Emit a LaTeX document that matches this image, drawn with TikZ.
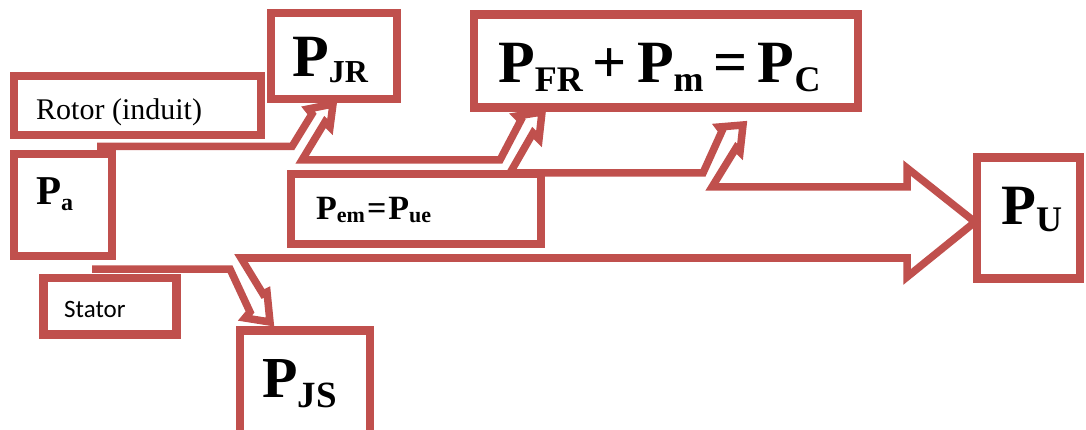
\documentclass[tikz,border=0pt]{standalone}
\usepackage{fontspec}
\setmainfont{Liberation Serif}
\newfontfamily\statorfont{Carlito}
\usetikzlibrary{positioning}

\definecolor{flowred}{HTML}{C0504D}

% P with a lowered subscript: main size, sub size, drop, subscript
\newcommand{\pwr}[4]{{\bfseries\fontsize{#1}{#1}\selectfont P\lower#3\hbox{\fontsize{#2}{#2}\selectfont #4}}}

\begin{document}
\begin{tikzpicture}[
  x=1pt, y=-1pt,
  box/.style={draw=flowred, line width=8.5pt, inner sep=0pt},
  lbl/.style={inner sep=0pt, anchor=base west},
  flow/.style={draw=flowred, line width=7.5pt},
]
\useasboundingbox (0,0) rectangle (1086,430);

% boxes
\node[box, minimum width=126pt, minimum height=86pt] (pjr) at (334,56) {};
\node[box, minimum width=247pt, minimum height=59pt] (rotor) at (137.5,105.5) {};
\node[box, minimum width=98pt, minimum height=102pt] (pa) at (63,205) {};
\node[box, minimum width=250pt, minimum height=70pt] (pem) at (416,209) {};
\node[box, minimum width=384pt, minimum height=93pt] (pc) at (666,61) {};
\node[box, minimum width=103pt, minimum height=121pt] (pu) at (1028.5,218) {};
\node[box, minimum width=133pt, minimum height=56.5pt] (stator) at (110,306) {};
\node[box, minimum width=130pt, minimum height=129pt] (pjs) at (305,395) {};

% texts
\node[lbl] (pjr-t) at (292,77) {\pwr{60pt}{32pt}{6pt}{JR}};
\node[lbl] (rotor-t) at (36,120) {\fontsize{30pt}{30pt}\selectfont Rotor (induit)};
\node[lbl] (pa-t) at (36,205) {\pwr{41pt}{24pt}{6pt}{a}};
\node[lbl] (pem-t) at (316,220) {\pwr{34pt}{22pt}{3pt}{em}\hspace{2pt}{\bfseries\fontsize{34pt}{34pt}\selectfont =}\hspace{2pt}\pwr{34pt}{22pt}{3pt}{ue}};
\node[lbl] (pc-t) at (498,83) {\pwr{60pt}{36pt}{9pt}{FR}\hspace{10pt}{\bfseries\fontsize{60pt}{60pt}\selectfont +}\hspace{10pt}\pwr{60pt}{36pt}{9pt}{m}\hspace{10pt}{\bfseries\fontsize{60pt}{60pt}\selectfont =}\hspace{10pt}\pwr{60pt}{36pt}{9pt}{C}};
\node[lbl] (pu-t) at (1001,225) {\pwr{57pt}{36pt}{7pt}{U}};
\node[lbl] (stator-t) at (64,317) {\statorfont\fontsize{25pt}{25pt}\selectfont Stator};
\node[lbl] (pjs-t) at (262,397) {\pwr{58pt}{37pt}{10pt}{JS}};

% power flow outline
\draw[flow] (97,146.5) -- (292,146.5)
  -- (312,114) -- (308,109) -- (333,104) -- (330,127) -- (325,122) -- (302,160)
  -- (500,160)
  -- (521,120) -- (517,116) -- (542,112) -- (539,139) -- (533,133) -- (510,173)
  -- (703,173)
  -- (722,131) -- (719,127) -- (743,125) -- (740,152) -- (736,148) -- (712,187)
  -- (907,187) -- (907,168) -- (975,222) -- (907,277) -- (907,258)
  -- (241,258)
  -- (263,294) -- (267,292) -- (270,322) -- (245,318) -- (250,312) -- (230,269)
  -- (92,269);
\end{tikzpicture}
\end{document}
